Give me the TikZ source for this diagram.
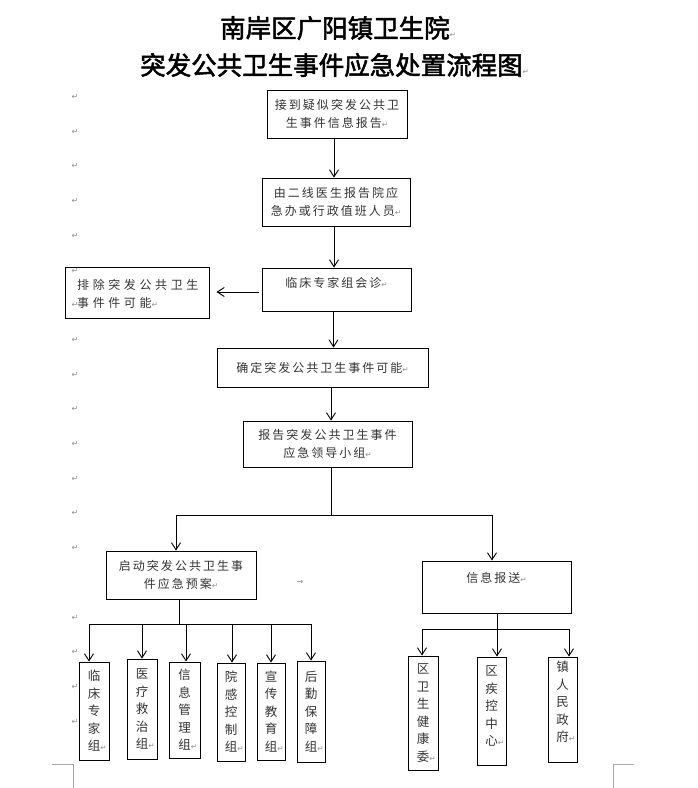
\documentclass[tikz,border=0pt]{standalone}
\usepackage{fontspec}
\setmainfont{Noto Sans CJK SC}
\newfontfamily\cjk[LetterSpace=16.7]{Noto Sans CJK SC}
\newfontfamily\cjkw[LetterSpace=30]{Noto Sans CJK SC}
\newfontfamily\cjkv{Noto Sans CJK SC}
\newfontfamily\titlefont[FakeBold=2]{Noto Sans CJK SC}
\newfontfamily\symfont{DejaVu Sans}
\usetikzlibrary{arrows.meta,calc}
\newcommand\crm{{\symfont\fontsize{7.5}{7.5}\selectfont\color{black!45}↵}}
\begin{document}
\begin{tikzpicture}[x=1pt,y=-1pt,
  box/.style={draw, line width=0.9pt, inner sep=0pt, align=center,
    font=\cjk\fontsize{12}{18}\selectfont, text=black!80},
  vbox/.style={draw, line width=0.9pt, inner sep=0pt, align=center,
    font=\cjkv\fontsize{12.5}{17.5}\selectfont, text=black!80},
  lbl/.style={inner sep=0pt, align=center,
    font=\cjk\fontsize{12}{18}\selectfont, text=black!80},
  vlbl/.style={inner sep=0pt, align=center,
    font=\cjkv\fontsize{12.5}{17.5}\selectfont, text=black!80},
  ttl/.style={inner sep=0pt, anchor=west, font=\titlefont\fontsize{25.5}{25.5}\selectfont},
  ret/.style={inner sep=0pt, font=\symfont\fontsize{8}{8}\selectfont, text=black!45},
  arr/.style={-{Straight Barb[length=7pt,width=9pt]}, line width=0.9pt},
  ln/.style={line width=0.9pt},
  corner/.style={line width=0.6pt, draw=black!35}]
\useasboundingbox (0,0) rectangle (697,788);

% title
\node[ttl] (h1) at (220,28) {南岸区广阳镇卫生院\crm};
\node[ttl] (h2) at (140,65) {突发公共卫生事件应急处置流程图\crm};

% left paragraph marks
\foreach \k [count=\i] in {0,1,2,3,4,5,6,7,8,9,10,11,12,13,15,16,17,18}
  \node[ret] (m\i) at (75,{97+34.7*\k}) {↵};

% main boxes
\node[box, minimum width=140, minimum height=48] (b1) at (337,114)
  {接到疑似突发公共卫\\生事件信息报告\crm};
\node[box, minimum width=148, minimum height=48] (b2) at (336,202)
  {由二线医生报告院应\\急办或行政值班人员\crm};
\node[box, minimum width=149, minimum height=43] (b3) at (336.5,289.5) {};
\node[lbl] (t3) at (336.5,283) {临床专家组会诊\crm};
\node[box, minimum width=144, minimum height=51] (b4) at (137,292.5) {};
\node[lbl, align=left, anchor=west, font=\cjkw\fontsize{12}{18}\selectfont] (t4) at (77,294)
  {排除突发公共卫生\\事件件可能\crm};
\node[box, minimum width=211, minimum height=39] (b5) at (322.5,367.5)
  {确定突发公共卫生事件可能\crm};
\node[box, minimum width=169, minimum height=46] (b6) at (327.5,444)
  {报告突发公共卫生事件\\应急领导小组\crm};
\node[box, minimum width=150, minimum height=48] (b7) at (181,575)
  {启动突发公共卫生事\\件应急预案\crm};
\node[box, minimum width=149, minimum height=52] (b8) at (496.5,587) {};
\node[lbl] (t8) at (496.5,578) {信息报送\crm};
\node[ret] (tab) at (300,582) {→};

% left group
\node[vbox, minimum width=30, minimum height=98] (g1) at (94,711)
  {临\\床\\专\\家\\组\rlap{\crm}};
\node[vbox, minimum width=30, minimum height=100] (g2) at (142,709)
  {医\\疗\\救\\治\\组\rlap{\crm}};
\node[vbox, minimum width=31, minimum height=96] (g3) at (184.5,710)
  {信\\息\\管\\理\\组\rlap{\crm}};
\node[vbox, minimum width=28, minimum height=98] (g4) at (231,712)
  {院\\感\\控\\制\\组\rlap{\crm}};
\node[vbox, minimum width=28, minimum height=97] (g5) at (271,711.5)
  {宣\\传\\教\\育\\组\rlap{\crm}};
\node[vbox, minimum width=28, minimum height=101] (g6) at (311,711.5)
  {后\\勤\\保\\障\\组\rlap{\crm}};

% right group
\node[vbox, minimum width=30, minimum height=114] (r1) at (423,713)
  {区\\卫\\生\\健\\康\\委\rlap{\crm}};
\node[vbox, minimum width=29, minimum height=108] (r2) at (491.5,711) {};
\node[vlbl] (u2) at (491.5,706) {区\\疾\\控\\中\\心\rlap{\crm}};
\node[vbox, minimum width=29, minimum height=105] (r3) at (562.5,709.5) {};
\node[vlbl] (u3) at (562.5,702) {镇\\人\\民\\政\\府\rlap{\crm}};

% connectors: main chain
\draw[arr] ($(b1.south)+(-3,0)$) -- ($(b1.south |- b2.north)+(-3,0)$);
\draw[arr] ($(b2.south)+(-2,0)$) -- ($(b2.south |- b3.north)+(-2,0)$);
\draw[arr] ($(b3.west |- 0,292)+(-3,0)$) -- ($(b4.east |- 0,292)+(7,0)$);
\draw[arr] ($(b3.south)+(-3,0)$) -- ($(b3.south |- b5.north)+(-3,0)$);
\draw[arr] ($(b5.south)+(8.5,0)$) -- ($(b5.south |- b6.north)+(8.5,0)$);

% split after b6
\coordinate (j1) at (331,515);
\coordinate (sL) at (176,515);
\coordinate (sR) at (492,515);
\draw[ln] ($(b6.south)+(3.5,0)$) -- (j1);
\draw[arr] (j1) -- (sL) -- (sL |- b7.north);
\draw[arr] (j1) -- (sR) -- (sR |- b8.north);

% b7 to left group
\coordinate (j2) at (179,624);
\coordinate (p1) at (89,624);
\coordinate (p2) at (142,624);
\coordinate (p3) at (186,624);
\coordinate (p4) at (232,624);
\coordinate (p5) at (271,624);
\coordinate (p6) at (311,624);
\draw[ln] ($(b7.south)+(-2,0)$) -- (j2);
\draw[ln] (p1) -- (p6);
\foreach \i in {1,...,6}
  \draw[arr] (p\i) -- (p\i |- g\i.north);

% b8 to right group
\coordinate (j3) at (497,629);
\coordinate (q1) at (422,629);
\coordinate (q3) at (569,629);
\draw[ln] ($(b8.south)+(0.5,0)$) -- (j3);
\draw[ln] (q1) -- (q3);
\draw[arr] (q1) -- (q1 |- r1.north);
\draw[arr] (j3) -- (j3 |- r2.north);
\draw[arr] (q3) -- (q3 |- r3.north);

% page corner marks
\draw[corner] (52,764) -- (73,764) -- (73,788);
\draw[corner] (634,764) -- (613,764) -- (613,788);
\end{tikzpicture}
\end{document}
